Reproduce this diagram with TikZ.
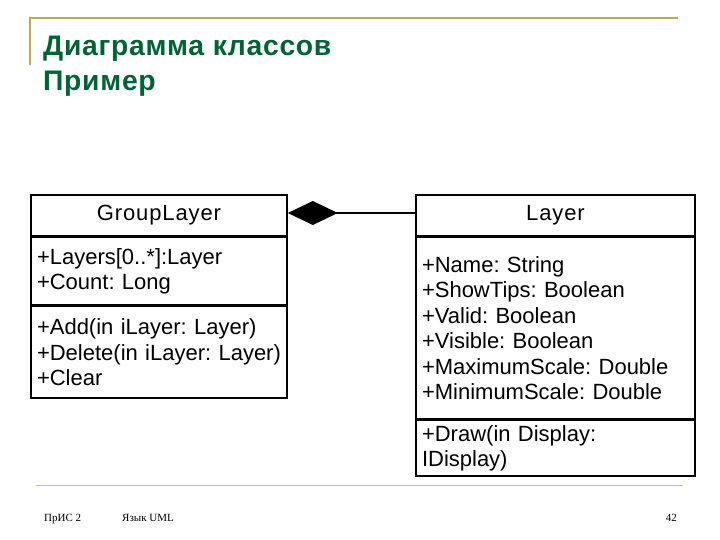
\documentclass[tikz,border=0pt]{standalone}
\usepackage{fontspec}
\setmainfont{Liberation Sans}
\newfontfamily\footfont{Liberation Serif}
\newfontfamily\titlefont[LetterSpace=2.5]{Liberation Sans}
\newfontfamily\headfont[LetterSpace=4]{Liberation Sans}
\usetikzlibrary{arrows.meta}
\definecolor{gold}{RGB}{196,166,76}
\definecolor{goldlight}{RGB}{214,190,98}
\definecolor{titlegreen}{RGB}{0,100,52}
\tikzset{
  umlbox/.style={draw=black, line width=1.6pt, inner xsep=6pt, inner ysep=0pt,
    font=\fontsize{22}{25.5}\selectfont\frenchspacing},
  umlhead/.style={umlbox, minimum height=41pt, align=center,
    font=\headfont\fontsize{22}{25.5}\selectfont},
  umlpart/.style={umlbox, align=left, anchor=north},
  titletext/.style={anchor=base west, inner sep=0pt, text=titlegreen,
    font=\titlefont\fontsize{28.3}{32}\selectfont\bfseries},
  foottext/.style={inner sep=0pt, font=\footfont\fontsize{11}{13}\selectfont}
}
\begin{document}
\begin{tikzpicture}[x=1pt,y=-1pt]
\useasboundingbox (0,0) rectangle (720,540);
% decorative lines
\draw[gold, line width=2pt] (30,65) -- (30,18) -- (678,18);
\draw[goldlight, line width=1.6pt] (36,485.5) -- (683,485.5);
% title
\node[titletext] (t1) at (43,55.5) {Диаграмма классов};
\node[titletext] (t2) at (43,91) {Пример};
% GroupLayer
\node[umlhead, minimum width=256pt] (gh) at (159,215.5) {GroupLayer};
\node[umlpart, text width=244pt, minimum height=67pt] (ga) at (gh.south)
  {+Layers[0..*]:Layer\\+Count: Long};
\node[umlpart, text width=244pt, minimum height=92pt] (gm) at (ga.south)
  {+Add(in iLayer: Layer)\\+Delete(in iLayer: Layer)\\+Clear};
% Layer
\node[umlhead, minimum width=279pt] (lh) at (555.5,215.5) {Layer};
\node[umlpart, text width=267pt, minimum height=181pt] (la) at (lh.south)
  {+Name: String\\+ShowTips: Boolean\\+Valid: Boolean\\+Visible: Boolean\\+MaximumScale: Double\\+MinimumScale: Double};
\node[umlpart, text width=267pt, minimum height=56pt] (lm) at (la.south)
  {+Draw(in Display:\\IDisplay)};
% composition
\draw[line width=1.6pt, -{Diamond[length=50pt,width=24pt]}]
  ([yshift=2.5pt]lh.west) -- ([yshift=2.5pt]gh.east);
% footer
\node[foottext, anchor=base west] (f1) at (44,521.5) {ПрИС 2};
\node[foottext, anchor=base west] (f2) at (122,521.5) {Язык UML};
\node[foottext, anchor=base east] (f3) at (677,521.5) {42};
\end{tikzpicture}
\end{document}
